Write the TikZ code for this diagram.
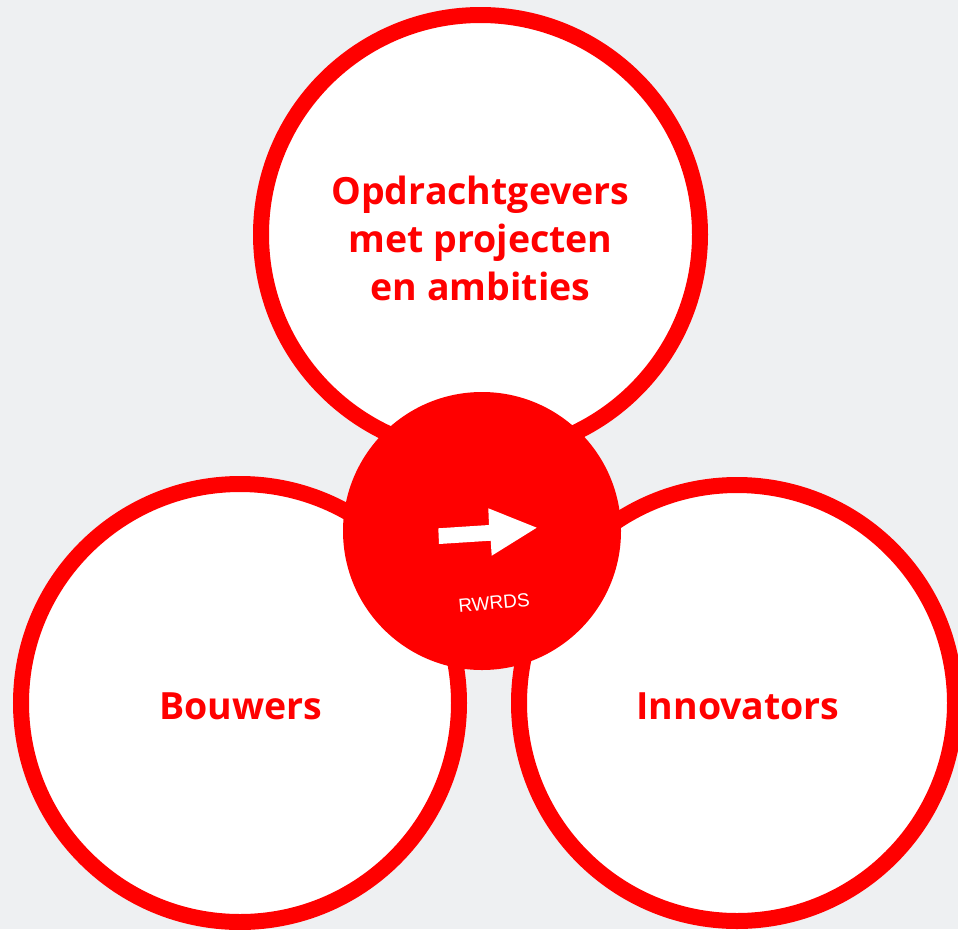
\documentclass[tikz,border=0pt]{standalone}
\usepackage{fontspec}
\setmainfont{Open Sans}
\newfontfamily\arialf{Liberation Sans}
\definecolor{bg}{HTML}{EEF0F2}
\definecolor{rwred}{HTML}{FF0000}
\begin{document}
\begin{tikzpicture}[x=1pt,y=-1pt,
  ring/.style={circle, draw=rwred, fill=white, line width=16pt, inner sep=0pt},
  hub/.style={circle, fill=rwred, inner sep=0pt, minimum size=278pt},
  lbl/.style={text=rwred, font=\fontsize{37.5}{48}\selectfont\bfseries, align=center, inner sep=0pt}]
\fill[bg] (0,0) rectangle (958,929);
\useasboundingbox (0,0) rectangle (958,929);
\node[ring, minimum size=439pt] (top) at (480.5,234.5) {};
\node[ring, minimum size=438pt] (left) at (240,703) {};
\node[ring, minimum size=436pt] (right) at (737,703) {};
\node[hub] (hub) at (482,531) {};
\node[lbl] (toptxt) at (480.5,238) {Opdrachtgevers\\met projecten\\en ambities};
\node[lbl] (lefttxt) at (241,706) {Bouwers};
\node[lbl] (righttxt) at (738,706) {Innovators};
\fill[white] (438.3,528.3) -- (489,525) -- (488.3,508.3) -- (536.7,527.7) -- (491.7,555.7) -- (490.7,540.7) -- (439,544) -- cycle;
\node[text=white, font=\arialf\fontsize{19}{21}\selectfont, rotate=5.4, inner sep=0pt] (rw) at (494,603) {RWRDS};
\end{tikzpicture}
\end{document}
